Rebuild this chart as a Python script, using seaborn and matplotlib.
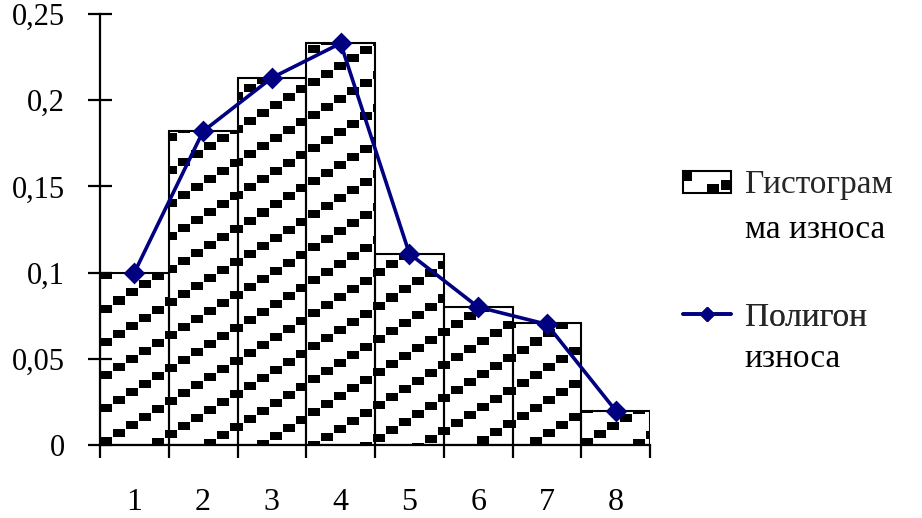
import numpy as np
import matplotlib
matplotlib.use("Agg")
import matplotlib.pyplot as plt
import seaborn as sns
from matplotlib.lines import Line2D
from matplotlib.patches import Rectangle
from matplotlib.ticker import FuncFormatter

# интервалы износа и частоты
intervals = ["1", "2", "3", "4", "5", "6", "7", "8"]
histogram = [0.100, 0.182, 0.213, 0.233, 0.111, 0.080, 0.071, 0.020]
polygon = [0.100, 0.182, 0.213, 0.233, 0.111, 0.080, 0.070, 0.020]
y_ticks = [0, 0.05, 0.10, 0.15, 0.20, 0.25]
hist_label = ["Гистограм", "ма износа"]
poly_label = ["Полигон", "износа"]

NAVY = "#000080"
Y_SIZE = 22
X_SIZE = 23
LEG_SIZE = 24


class PatternHandler:
    # маленький прямоугольник со "ступеньками" как в Excel
    def legend_artist(self, legend, orig_handle, fontsize, handlebox):
        x0, y0 = handlebox.xdescent, handlebox.ydescent
        w, h = handlebox.width, handlebox.height
        tr = handlebox.get_transform()
        box = Rectangle((-x0, -y0), w, h, facecolor="white", edgecolor="black", lw=1.5, transform=tr)
        handlebox.add_artist(box)
        for bx, by, bw, bh in [(0.0, 0.55, 0.18, 0.45), (0.5, 0.0, 0.25, 0.38), (0.79, 0.15, 0.21, 0.45)]:
            handlebox.add_artist(Rectangle((-x0 + bx * w, -y0 + by * h), bw * w, bh * h,
                                           facecolor="black", edgecolor="none", transform=tr))
        return box


sns.set_style("ticks")
plt.rcParams['font.family'] = ['Liberation Serif', 'DejaVu Serif']

fig = plt.figure(figsize=(9.22, 5.18), dpi=100)
ax = fig.add_axes([100 / 922, 73 / 518, 550 / 922, 431 / 518])

sns.barplot(x=intervals, y=histogram, width=1, fill=False, color="black",
            linewidth=1.5, ax=ax, zorder=3)
sns.pointplot(x=intervals, y=polygon, color=NAVY, markers="D", markersize=9,
              linewidth=2.6, errorbar=None, ax=ax, zorder=5)

xlim = (-0.5, len(intervals) - 0.5)
ylim = (0, 0.25)
ax.set_xlim(xlim)
ax.set_ylim(ylim)

# штриховка столбцов (пунктирные диагонали)
bbox = ax.get_window_extent()
W, H = int(round(bbox.width)), int(round(bbox.height))
px = np.arange(W)[None, :]
py = np.arange(H)[::-1][:, None]
step = px // 13
on = ((px % 13) < 12) & (((py - 8 * step) % 33) < 8)
rgba = np.zeros((H, W, 4))
rgba[on, 3] = 1.0
for bar in list(ax.patches):
    im = ax.imshow(rgba, extent=(*xlim, *ylim), aspect="auto",
                   interpolation="nearest", zorder=2)
    im.set_clip_path(bar)
ax.set_xlim(xlim)
ax.set_ylim(ylim)

# оси
sns.despine(ax=ax)
for side in ["left", "bottom"]:
    ax.spines[side].set_linewidth(1.6)
    ax.spines[side].set_color("black")
ax.set_yticks(y_ticks)
ax.yaxis.set_major_formatter(FuncFormatter(lambda v, _: f"{v:g}".replace(".", ",")))
ax.tick_params(axis="y", direction="inout", length=17, width=1.6, pad=17,
               labelsize=Y_SIZE, colors="black")
ax.set_xticks(np.arange(len(intervals) + 1) - 0.5, minor=True)
ax.tick_params(axis="x", which="major", length=0, pad=31, labelsize=X_SIZE, colors="black")
ax.tick_params(axis="x", which="minor", direction="out", length=9, width=1.6, color="black")
ax.set_xlabel("")
ax.set_ylabel("")

# легенда: две отдельные записи, вторая строка подписи - отдельный текст
leg_kw = dict(loc="upper left", bbox_transform=fig.transFigure, frameon=False,
              fontsize=LEG_SIZE, handlelength=1.45, handleheight=0.66,
              handletextpad=0.4, borderaxespad=0, borderpad=0)
leg1 = ax.legend([Rectangle((0, 0), 1, 1)], [hist_label[0]],
                 handler_map={Rectangle: PatternHandler()},
                 bbox_to_anchor=(683 / 922, 1 - 170 / 518), **leg_kw)
ax.add_artist(leg1)
leg2 = ax.legend([Line2D([], [], color=NAVY, marker="D", lw=2.6, ms=7)], [poly_label[0]],
                 bbox_to_anchor=(683 / 922, 1 - 302 / 518), **leg_kw)
ax.add_artist(leg2)

for leg, lab, gap in [(leg1, hist_label, 32), (leg2, poly_label, 30)]:
    ax.annotate(lab[1], xy=(0, 0), xycoords=leg.get_texts()[0],
                xytext=(0, -gap), textcoords="offset points",
                ha="left", va="bottom", fontsize=LEG_SIZE, color="black", zorder=10)

fig.savefig("out.png", dpi=100)
